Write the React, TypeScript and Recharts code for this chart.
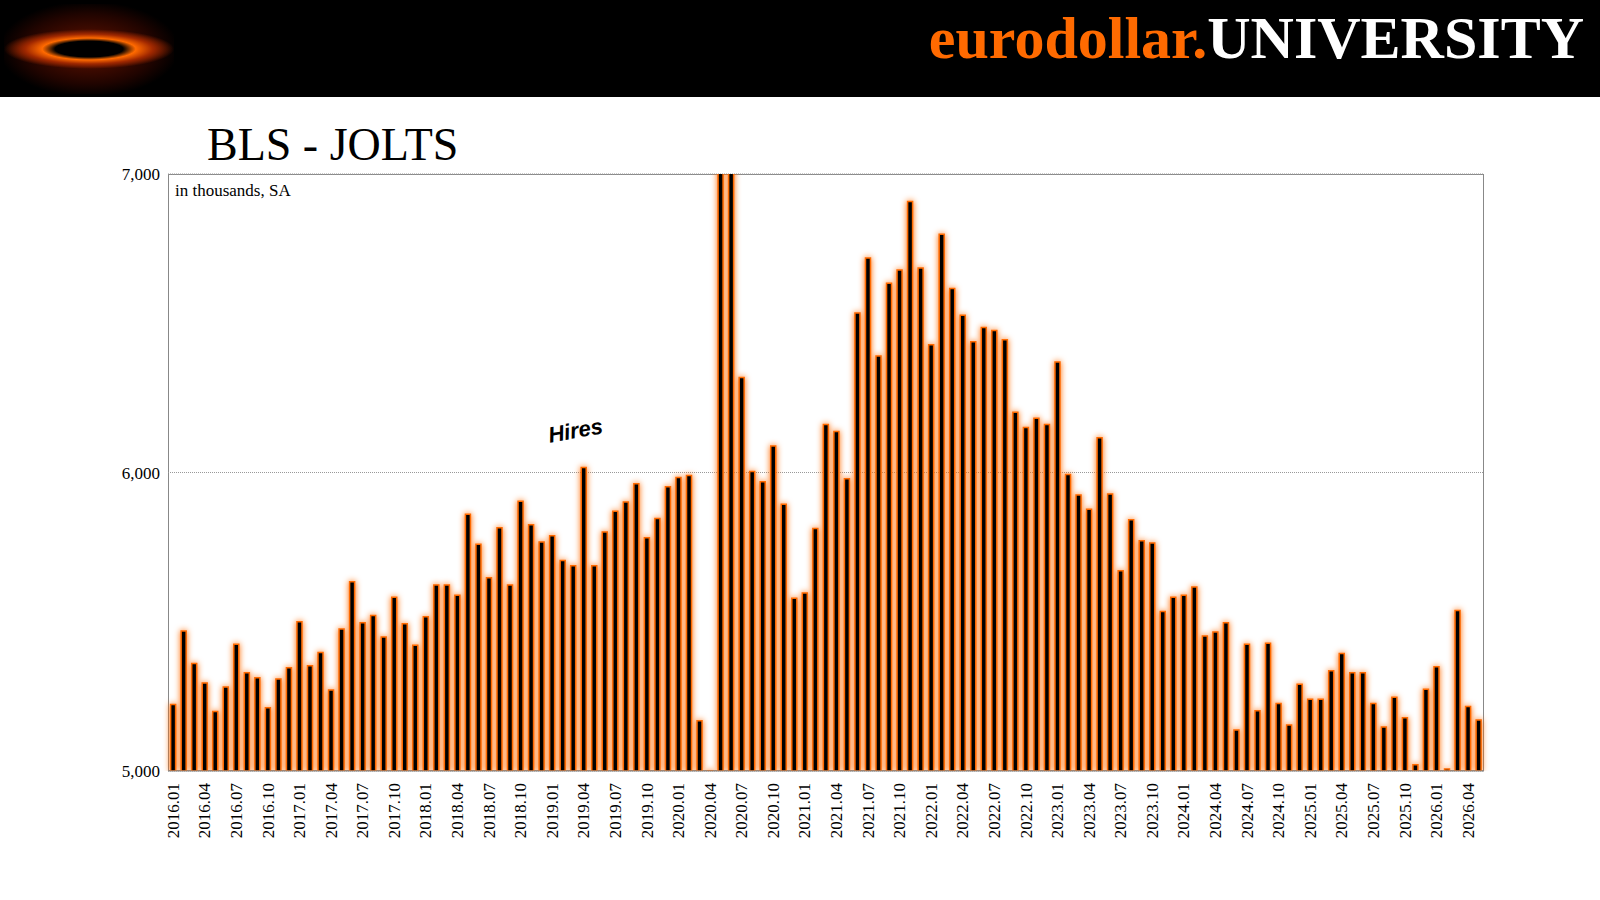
import { BarChart, Bar, XAxis, YAxis, CartesianGrid } from 'recharts';

const START_YEAR = 2016;

// monthly hires, thousands, SA (2016.01 .. 2026.05)
const hires = [
  5223, 5469, 5360, 5295, 5199, 5281, 5425, 5329, 5312, 5212, 5308, 5346,
  5500, 5353, 5397, 5271, 5476, 5634, 5497, 5521, 5449, 5582, 5493, 5421,
  5517, 5623, 5623, 5589, 5860, 5760, 5647, 5815, 5623, 5904, 5825, 5767,
  5788, 5705, 5688, 6017, 5688, 5801, 5870, 5901, 5962, 5781, 5846, 5952,
  5983, 5990, 5168, 3500, 7200, 7500, 6318, 6003, 5969, 6089, 5894, 5579,
  5596, 5812, 6161, 6137, 5979, 6534, 6719, 6390, 6634, 6678, 6908, 6685,
  6428, 6798, 6616, 6527, 6438, 6486, 6476, 6445, 6202, 6151, 6182, 6161,
  6370, 5993, 5925, 5877, 6116, 5928, 5671, 5842, 5771, 5764, 5534, 5582,
  5589, 5616, 5452, 5466, 5497, 5137, 5425, 5202, 5428, 5226, 5154, 5291,
  5240, 5240, 5336, 5394, 5329, 5329, 5226, 5147, 5247, 5178, 5021, 5274,
  5349, 5007, 5538, 5216, 5171,
];

const yTicks = [5000, 6000, 7000];

const data = hires.map((value, i) => {
  const y = START_YEAR + Math.floor(i / 12);
  const m = (i % 12) + 1;
  return { month: `${y}.${m < 10 ? '0' + m : m}`, value };
});

const serif = '"Liberation Serif", "DejaVu Serif", serif';

const XTick = ({ x, y, payload }: any) => (
  <text
    x={x}
    y={y + 4}
    transform={`rotate(-90, ${x}, ${y + 4})`}
    textAnchor="end"
    dominantBaseline="central"
    fontFamily={serif}
    fontSize={17}
    fill="#000"
  >
    {payload.value}
  </text>
);

export default function App() {
  return (
    <div style={{ position: 'absolute', left: 0, top: 0, width: 1600, height: 900, background: '#fff', overflow: 'hidden' }}>
      <div style={{ position: 'absolute', left: 0, top: 0, width: 1600, height: 97, background: '#000' }}>
        <div
          style={{
            position: 'absolute', left: 4, top: 4, width: 170, height: 90,
            background: 'radial-gradient(ellipse 50% 22% at center, #000 40%, #ff6a00 55%, #a02800 75%, transparent 100%), radial-gradient(ellipse at center, #5a1000 10%, #200400 55%, #000 75%)',
          }}
        />
        <div style={{ position: 'absolute', right: 16, top: 4, fontFamily: serif, fontWeight: 'bold', fontSize: 60 }}>
          <span style={{ color: '#ff6a00' }}>eurodollar.</span>
          <span style={{ color: '#fff' }}>UNIVERSITY</span>
        </div>
      </div>
      <div style={{ position: 'absolute', left: 207, top: 118, fontFamily: serif, fontSize: 46 }}>BLS - JOLTS</div>
      <div style={{ position: 'absolute', left: 168, top: 174, width: 1316, height: 597, border: '1px solid #888', boxSizing: 'border-box' }} />
      <div style={{ position: 'absolute', left: 175, top: 181, fontFamily: serif, fontSize: 17 }}>in thousands, SA</div>
      <div
        style={{
          position: 'absolute', left: 548, top: 418, fontFamily: 'Arial, "Liberation Sans", sans-serif',
          fontWeight: 'bold', fontStyle: 'italic', fontSize: 22, transform: 'rotate(-10deg)',
        }}
      >
        Hires
      </div>
      <div style={{ position: 'absolute', left: 0, top: 0 }}>
        <BarChart
          width={1600}
          height={900}
          data={data}
          margin={{ top: 174, left: 93, right: 116, bottom: 39 }}
          barCategoryGap="25%"
        >
          <CartesianGrid vertical={false} stroke="#999" strokeDasharray="1 1" />
          <YAxis
            width={75}
            domain={[5000, 7000]}
            ticks={yTicks}
            allowDataOverflow
            axisLine={false}
            tickLine={false}
            tickFormatter={(v: number) => v.toLocaleString('en-US')}
            tick={{ fontFamily: serif, fontSize: 17, fill: '#000' }}
          />
          <XAxis
            dataKey="month"
            interval={2}
            height={90}
            tickLine={false}
            axisLine={{ stroke: '#888' }}
            tick={<XTick />}
          />
          <Bar
            dataKey="value"
            fill="#000"
            stroke="#ff6a00"
            strokeWidth={1.5}
            isAnimationActive={false}
            style={{ filter: 'drop-shadow(0 0 3px #ff6a00)' }}
          />
        </BarChart>
      </div>
    </div>
  );
}
